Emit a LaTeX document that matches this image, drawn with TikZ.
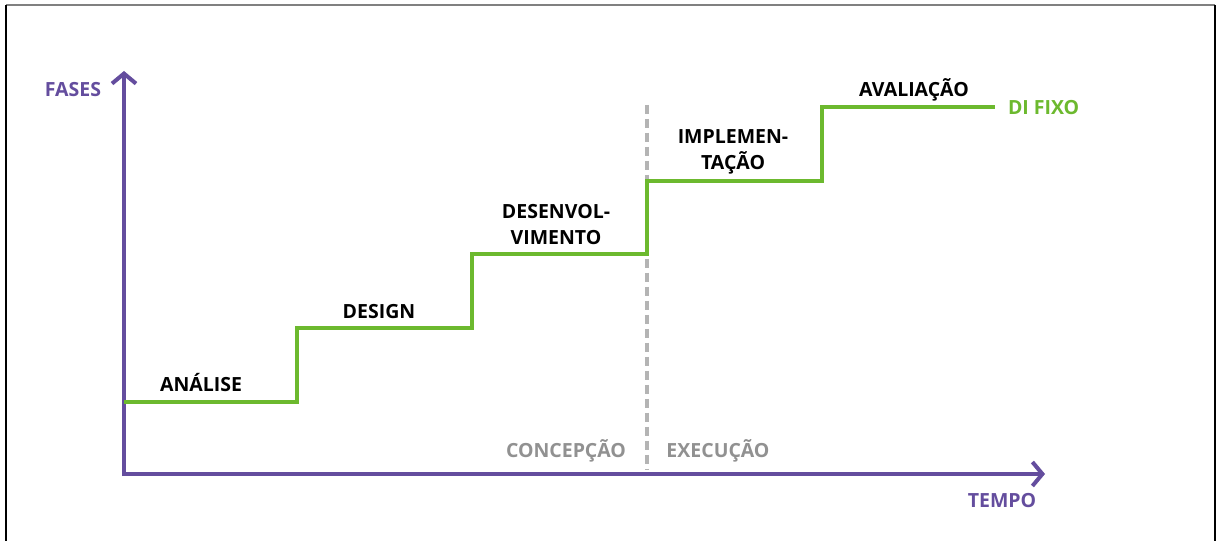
\documentclass[tikz,border=0pt]{standalone}
\usepackage{fontspec}
\setmainfont{Open Sans}
\usepackage{xcolor}
\usetikzlibrary{arrows.meta}

\definecolor{axisColor}{RGB}{100,77,158}
\definecolor{stepColor}{RGB}{108,185,46}
\definecolor{phaseColor}{RGB}{145,145,145}
\definecolor{splitColor}{RGB}{180,180,180}

\tikzset{
  axis/.style={draw=axisColor,line width=4pt,-{Straight Barb[length=10pt,width=24pt,line width=4pt]}},
  stair/.style={draw=stepColor,line width=4pt,line join=miter},
  steplabel/.style={text=black,font=\bfseries\fontsize{19.5}{26}\selectfont,anchor=base,inner sep=0pt,outer sep=0pt,align=center},
  axislabel/.style={steplabel,text=axisColor},
  phaselabel/.style={steplabel,text=phaseColor}
}

\begin{document}
\begin{tikzpicture}[x=1pt,y=1pt]
\path[use as bounding box,fill=white] (0,0) rectangle (1218,541);

% frame
\draw[draw=gray,line width=2pt] (6,536) -- (1215,536);
\draw[draw=black,line width=1.5pt] (6,536) -- (6,0);
\draw[draw=black,line width=1.2pt] (1215,536) -- (1215,0);

% axes
\coordinate (origin) at (124,67);
\coordinate (ytip) at (124,470);
\coordinate (xtip) at (1045,67);
\draw[axis] ([xshift=-2pt]origin) -- (xtip);
\draw[axis] ([yshift=-2pt]origin) -- (ytip);

\node[axislabel] (fases) at (73,444) {FASES};
\node[axislabel] (tempo) at (1002,34) {TEMPO};

% split between phases
\coordinate (splittop) at (647,436);
\coordinate (splitbot) at (647,71);
\draw[draw=splitColor,line width=3.5pt,dash pattern=on 9pt off 5pt] (splittop) -- (splitbot);

\node[phaselabel] (concepcao) at (566,83) {CONCEPÇÃO};
\node[phaselabel] (execucao) at (718,83) {EXECUÇÃO};

% stairs
\coordinate (s0) at (124,139);
\coordinate (s1) at (297,139);
\coordinate (s2) at (297,213);
\coordinate (s3) at (472,213);
\coordinate (s4) at (472,287);
\coordinate (s5) at (647,287);
\coordinate (s6) at (647,360);
\coordinate (s7) at (822,360);
\coordinate (s8) at (822,434);
\coordinate (s9) at (995,434);
\draw[stair] (s0) -- (s1) -- (s2) -- (s3) -- (s4) -- (s5) -- (s6) -- (s7) -- (s8) -- (s9);

\node[steplabel] (analise) at (201,149) {ANÁLISE};
\node[steplabel] (design) at (379,222) {DESIGN};
\node[steplabel] (desenv) at (556,296) {DESENVOL-\\VIMENTO};
\node[steplabel] (implem) at (733,371) {IMPLEMEN-\\TAÇÃO};
\node[steplabel] (avalia) at (914,444) {AVALIAÇÃO};
\node[steplabel,text=stepColor,anchor=base west] (difixo) at (1008,426) {DI FIXO};
\end{tikzpicture}
\end{document}
